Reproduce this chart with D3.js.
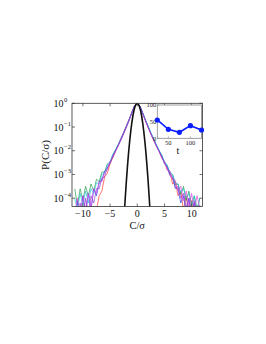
<!DOCTYPE html>
<html><head><meta charset="utf-8">
<script src="https://cdn.jsdelivr.net/npm/d3@7"></script>
<style>body{margin:0;background:#fff}svg{display:block}text{font-family:"Liberation Serif","DejaVu Serif",serif}</style>
</head><body><svg id="c" width="266" height="344"></svg>
<script>
const xGrid = [-11.5,-11,-10.5,-10,-9.5,-9,-8.5,-8,-7.5,-7,-6.5,-6,-5.5,-5,-4.5,-4,-3.5,-3,-2.5,-2,-1.5,-1,-0.5,0,0.5,1,1.5,2,2.5,3,3.5,4,4.5,5,5.5,6,6.5,7,7.5,8,8.5,9,9.5,10,10.5,11,11.5];
// log10 P values per series
const seriesRed = [-5.5,-4.8,-5.3,-4.6,-5.2,-4.5,-5.0,-4.4,-4.5,-3.9,-3.7,-3.1,-2.95,-2.55,-2.3,-2.02,-1.76,-1.48,-1.22,-0.95,-0.68,-0.38,-0.1,0,-0.12,-0.42,-0.72,-1.0,-1.28,-1.52,-1.78,-2.0,-2.3,-2.45,-2.8,-2.9,-3.4,-3.3,-3.9,-3.7,-4.5,-3.9,-4.8,-4.1,-5.0,-4.3,-4.7];
const seriesGreen = [-3.6,-4.3,-3.6,-4.1,-3.5,-3.9,-3.4,-3.7,-3.2,-3.3,-2.9,-2.9,-2.55,-2.5,-2.18,-1.98,-1.76,-1.52,-1.26,-0.99,-0.71,-0.41,-0.12,0,-0.13,-0.41,-0.71,-0.99,-1.27,-1.52,-1.77,-2.0,-2.2,-2.5,-2.62,-2.95,-3.0,-3.45,-3.4,-3.85,-3.5,-4.1,-3.7,-4.3,-3.9,-4.5,-4.0];
const seriesBlue = [-4.9,-4.1,-5.0,-3.9,-4.7,-3.8,-4.5,-3.6,-3.9,-3.3,-3.25,-2.85,-2.75,-2.45,-2.25,-2.0,-1.77,-1.52,-1.26,-0.99,-0.7,-0.4,-0.11,0,-0.12,-0.41,-0.7,-0.98,-1.26,-1.5,-1.76,-2.0,-2.2,-2.52,-2.65,-3.0,-3.1,-3.55,-3.6,-4.2,-3.9,-4.6,-4.0,-4.8,-4.2,-4.9,-4.3];
const seriesCyan = [-4.0,-4.5,-3.8,-4.3,-3.7,-4.2,-3.6,-3.8,-3.35,-3.4,-3.0,-2.95,-2.6,-2.48,-2.15,-1.95,-1.72,-1.48,-1.23,-0.96,-0.69,-0.39,-0.11,0,-0.11,-0.39,-0.68,-0.96,-1.24,-1.48,-1.73,-1.97,-2.18,-2.45,-2.6,-2.9,-3.0,-3.35,-3.4,-3.75,-3.6,-4.0,-3.8,-4.3,-3.9,-4.5,-4.0];
const seriesMagenta = [-4.7,-4.0,-4.8,-3.9,-4.5,-3.8,-4.4,-3.6,-3.8,-3.3,-3.3,-2.9,-2.8,-2.45,-2.3,-2.02,-1.8,-1.55,-1.3,-1.02,-0.73,-0.43,-0.13,0,-0.14,-0.44,-0.74,-1.03,-1.3,-1.55,-1.8,-2.03,-2.3,-2.45,-2.8,-2.85,-3.2,-3.25,-3.7,-3.5,-4.1,-3.7,-4.4,-3.8,-4.5,-3.9,-4.4];
const seriesPurple = [-4.5,-5.1,-4.2,-4.9,-4.0,-4.7,-3.9,-4.2,-3.6,-3.6,-3.15,-3.1,-2.7,-2.55,-2.22,-2.0,-1.77,-1.51,-1.25,-0.97,-0.69,-0.39,-0.11,0,-0.12,-0.42,-0.72,-1.01,-1.29,-1.53,-1.79,-2.02,-2.25,-2.55,-2.7,-3.05,-3.15,-3.6,-3.5,-4.0,-3.8,-4.4,-4.0,-4.7,-4.1,-4.8,-4.3];
const seriesNames = ["red","green","blue","cyan","magenta","purple"];
const seriesColors = ["#ff3030","#1f9a4a","#2a3cff","#22c4d8","#e040e0","#8a3cc8"];
// Gaussian reference (black), log10 P
const gaussX = [-2.6,-2.4,-2.2,-2.0,-1.8,-1.6,-1.4,-1.2,-1.0,-0.8,-0.6,-0.4,-0.2,0,0.2,0.4,0.6,0.8,1.0,1.2,1.4,1.6,1.8,2.0,2.2,2.4,2.6];
const gaussLog = [-5.54,-4.72,-3.97,-3.28,-2.66,-2.10,-1.61,-1.18,-0.82,-0.525,-0.295,-0.131,-0.033,0,-0.033,-0.131,-0.295,-0.525,-0.82,-1.18,-1.61,-2.10,-2.66,-3.28,-3.97,-4.72,-5.54];
const xTicks = [-10,-5,0,5,10];
const yTickExps = [0,-1,-2,-3,-4];
// inset
const insetT = [25,50,75,100,125];
const insetV = [55,27,18,38,25];
const insetXTicks = [50,100];
const insetYTicks = [0,50,100];

const allSeries = [seriesRed,seriesGreen,seriesBlue,seriesCyan,seriesMagenta,seriesPurple];
const svg = d3.select("#c");
const L=72, R=202.5, T=103.3, B=206.5;
const x = d3.scaleLinear().domain([-12,12]).range([L,R]);
const y = d3.scaleLinear().domain([-4.35,0]).range([B,T]);

svg.append("defs").append("clipPath").attr("id","clp").append("rect")
  .attr("x",L).attr("y",T).attr("width",R-L).attr("height",B-T);

const g = svg.append("g").attr("clip-path","url(#clp)");
const line = d3.line().x(d=>x(d[0])).y(d=>y(d[1]));
allSeries.forEach((s,i)=>{
  g.append("path").datum(xGrid.map((xv,j)=>[xv,s[j]]))
   .attr("d",line).attr("fill","none").attr("stroke",seriesColors[i])
   .attr("stroke-width",0.8).attr("stroke-opacity",0.85);
});
g.append("path").datum(gaussX.map((xv,j)=>[xv,gaussLog[j]]))
  .attr("d",line).attr("fill","none").attr("stroke","#111").attr("stroke-width",1.6);

// frame
svg.append("rect").attr("x",L).attr("y",T).attr("width",R-L).attr("height",B-T)
  .attr("fill","none").attr("stroke","#333").attr("stroke-width",0.8);
// ticks
xTicks.forEach(t=>{
  svg.append("line").attr("x1",x(t)).attr("x2",x(t)).attr("y1",B).attr("y2",B-3).attr("stroke","#333").attr("stroke-width",0.7);
  svg.append("line").attr("x1",x(t)).attr("x2",x(t)).attr("y1",T).attr("y2",T+3).attr("stroke","#333").attr("stroke-width",0.7);
  svg.append("text").attr("x",x(t)).attr("y",B+10).attr("text-anchor","middle")
    .attr("font-size",10).attr("fill","#111").text(t<0?"\u2212"+(-t):t);
});
yTickExps.forEach(e=>{
  svg.append("line").attr("x1",L).attr("x2",L+3).attr("y1",y(e)).attr("y2",y(e)).attr("stroke","#333").attr("stroke-width",0.7);
  svg.append("line").attr("x1",R).attr("x2",R-3).attr("y1",y(e)).attr("y2",y(e)).attr("stroke","#333").attr("stroke-width",0.7);
  svg.append("text").attr("x",L-8.5).attr("y",y(e)+3.5).attr("text-anchor","end").attr("font-size",10).attr("fill","#111").text("10");
  svg.append("text").attr("x",L-8).attr("y",y(e)-1.5).attr("text-anchor","start").attr("font-size",6.5).attr("fill","#111")
    .text(e===0?"0":"\u2212"+(-e));
});
svg.append("text").attr("transform","translate(49,155) rotate(-90)").attr("text-anchor","middle")
  .attr("font-size",11).attr("fill","#111").text("P(C/\u03c3)");
svg.append("text").attr("x",x(0)).attr("y",228.5).attr("text-anchor","middle")
  .attr("font-size",10.5).attr("fill","#111").text("C/\u03c3");

// inset
const iL=157.3, iR=201.5, iT=105, iB=138.3;
const ix = d3.scaleLinear().domain([25,125]).range([iL,iR]);
const iy = d3.scaleLinear().domain([0,100]).range([iB,iT]);
svg.append("rect").attr("x",iL).attr("y",iT).attr("width",iR-iL).attr("height",iB-iT)
  .attr("fill","#fff").attr("stroke","#888").attr("stroke-width",0.8);
insetXTicks.forEach(t=>{
  svg.append("line").attr("x1",ix(t)).attr("x2",ix(t)).attr("y1",iB).attr("y2",iB-2).attr("stroke","#888").attr("stroke-width",0.6);
  svg.append("text").attr("x",ix(t)).attr("y",iB+6.5).attr("text-anchor","middle").attr("font-size",6.5).attr("fill","#222").text(t);
});
insetYTicks.forEach(t=>{
  svg.append("line").attr("x1",iL).attr("x2",iL+2).attr("y1",iy(t)).attr("y2",iy(t)).attr("stroke","#888").attr("stroke-width",0.6);
  svg.append("text").attr("x",iL-1).attr("y",iy(t)+2.3).attr("text-anchor","end").attr("font-size",6.5).attr("fill","#222").text(t);
});
svg.append("text").attr("x",178).attr("y",154).attr("text-anchor","middle").attr("font-size",10).attr("fill","#111").text("t");
const ig = svg.append("g");
ig.append("path").datum(insetT.map((t,i)=>[t,insetV[i]]))
  .attr("d",d3.line().x(d=>ix(d[0])).y(d=>iy(d[1]))).attr("fill","none").attr("stroke","#0a1eff").attr("stroke-width",1.6);
ig.selectAll("circle").data(insetT).enter().append("circle")
  .attr("cx",t=>ix(t)).attr("cy",(t,i)=>iy(insetV[i])).attr("r",2.6).attr("fill","#0a1eff");
</script></body></html>
